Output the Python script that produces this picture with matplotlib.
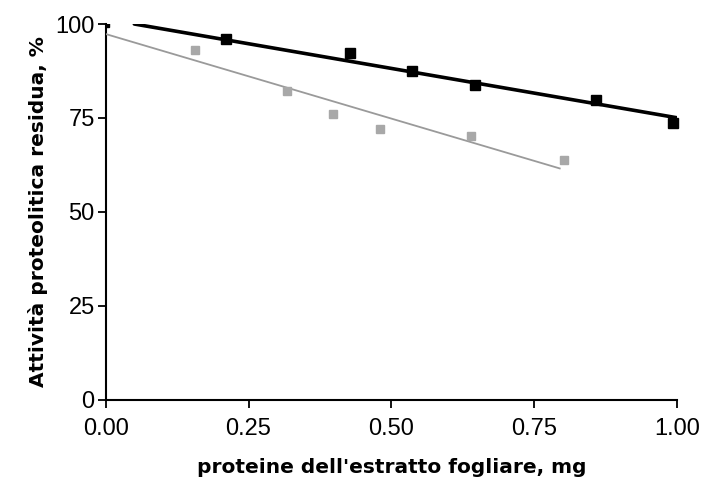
import numpy as np
import matplotlib
matplotlib.use("Agg")
import matplotlib.pyplot as plt

plt.rcParams['font.family'] = ['Liberation Sans', 'DejaVu Sans']

# Data
x_black = [0.0, 0.211, 0.427, 0.537, 0.646, 0.858, 0.994]
y_black = [100.0, 95.9, 92.2, 87.5, 83.7, 79.7, 73.8]
x_grey = [0.156, 0.318, 0.398, 0.480, 0.640, 0.802]
y_grey = [93.0, 82.3, 76.0, 72.1, 70.1, 63.7]

fit_range_black = [0.05, 1.0]
fit_range_grey = [0.0, 0.795]

x_ticks = [0.0, 0.25, 0.5, 0.75, 1.0]
x_ticklabels = ['0.00', '0.25', '0.50', '0.75', '1.00']
y_ticks = [0, 25, 50, 75, 100]

fig = plt.figure(figsize=(7.05, 4.84), dpi=100)
ax = fig.add_axes([0.150, 0.1736, 0.810, 0.7768])

grey = '#9a9a9a'

# regression lines
pb = np.polyfit(x_black, y_black, 1)
pg = np.polyfit([0.0] + x_grey, [98.5] + y_grey, 1)
xb = np.array(fit_range_black)
xg = np.array(fit_range_grey)
ax.plot(xb, np.polyval(pb, xb), color='black', lw=2.6, zorder=3, solid_capstyle='round')
ax.plot(xg, np.polyval(pg, xg), color=grey, lw=1.3, zorder=3)

ax.plot(x_black[:1], y_black[:1], ls='none', marker='s', ms=5, color='black', zorder=4, clip_on=True)
ax.plot(x_black[1:], y_black[1:], ls='none', marker='s', ms=6.5, color='black', zorder=4, clip_on=False)
ax.plot(x_grey, y_grey, ls='none', marker='s', ms=5.5, color='#a8a8a8', zorder=4, clip_on=False)

ax.set_xlim(0, 1)
ax.set_ylim(0, 100)
ax.set_xticks(x_ticks)
ax.set_xticklabels(x_ticklabels)
ax.set_yticks(y_ticks)
for s in ['top', 'right']:
    ax.spines[s].set_visible(False)
for s in ['left', 'bottom']:
    ax.spines[s].set_linewidth(1.5)
ax.tick_params(direction='out', length=6, width=1.3, labelsize=17)
ax.tick_params(axis='x', pad=7)
ax.tick_params(axis='y', pad=2)

lab_font = dict(family='DejaVu Sans', fontsize=14.5, fontweight='bold')
ax.set_xlabel("proteine dell'estratto fogliare, mg", labelpad=13, **lab_font)
ax.set_ylabel("Attività proteolitica residua, %", labelpad=5, **lab_font)

fig.savefig('out.png', dpi=100)
